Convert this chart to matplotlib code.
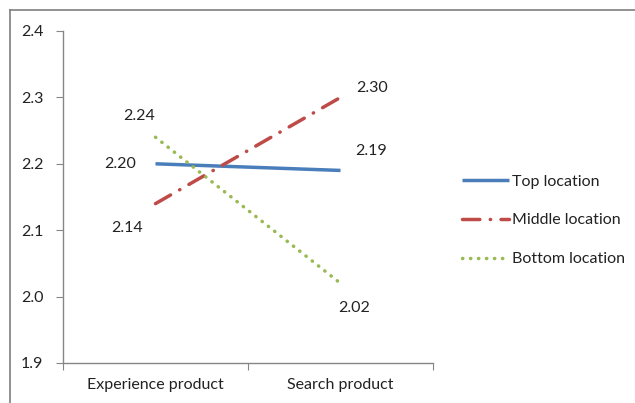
import matplotlib.pyplot as plt
from matplotlib.lines import Line2D

# chart data
categories = ['Experience product', 'Search product']
top_vals = [2.20, 2.19]
middle_vals = [2.14, 2.30]
bottom_vals = [2.24, 2.02]
series_names = ['Top location', 'Middle location', 'Bottom location']

plt.rcParams['font.family'] = ['Lato', 'DejaVu Sans']

W, H = 635, 403
fig = plt.figure(figsize=(W / 100, H / 100), dpi=100)
ax = fig.add_axes([63 / W, 1 - 363 / H, 370 / W, 332 / H])

x = list(range(len(categories)))
blue, red, green = '#4A7EBB', '#BE4B48', '#98B954'
fs = 11.5

l1, = ax.plot(x, top_vals, color=blue, lw=2.5, solid_capstyle='butt')
l2, = ax.plot(x, middle_vals, color=red, lw=2.5,
              linestyle=(0, (5, 3, 0.1, 3)), dash_capstyle='round')
l3, = ax.plot(x, bottom_vals, color=green, lw=2.5,
              linestyle=(0, (0.1, 2.2)), dash_capstyle='round')

# data labels (offsets in pixels)
label_offsets = {
    0: [(-35, 0), (31, 19)],
    1: [(-28, -24), (32, 9)],
    2: [(-16, 21), (14, -25)],
}
for i, vals in enumerate([top_vals, middle_vals, bottom_vals]):
    for j, v in enumerate(vals):
        dx, dy = label_offsets[i][j]
        ax.annotate(f'{v:.2f}', (x[j], v), xytext=(dx, dy),
                    textcoords='offset pixels', ha='center', va='center',
                    fontsize=fs, color='#222222')

ax.set_xlim(-0.5, 1.5)
ax.set_ylim(1.9, 2.4)
ax.set_yticks([1.9, 2.0, 2.1, 2.2, 2.3, 2.4])
ax.set_yticklabels(['1.9', '2.0', '2.1', '2.2', '2.3', '2.4'])
ax.set_xticks([-0.5, 0.5, 1.5])
ax.set_xticklabels([])
ax.set_xticks(x, minor=True)
ax.set_xticklabels(categories, minor=True)
ax.tick_params(axis='x', which='minor', length=0, pad=11, labelsize=fs, labelcolor='#222222')
ax.tick_params(axis='x', which='major', length=5, color='#868686', direction='out')
ax.tick_params(axis='y', length=5, color='#868686', direction='out',
               pad=9, labelsize=fs, labelcolor='#222222')

for s in ['top', 'right']:
    ax.spines[s].set_visible(False)
for s in ['left', 'bottom']:
    ax.spines[s].set_color('#868686')
    ax.spines[s].set_linewidth(1)

leg = fig.legend([l1, l2, l3], series_names, loc='upper left',
                 bbox_to_anchor=(448 / W, 1 - 160 / H), frameon=False,
                 fontsize=fs, handlelength=2.9, handletextpad=0.2,
                 labelspacing=1.55)
for t in leg.get_texts():
    t.set_color('#222222')

# outer border (top and left edges)
fig.add_artist(Line2D([10 / W, 10 / W], [0, 1 - 10 / H], color='#7f7f7f', lw=1.2))
fig.add_artist(Line2D([10 / W, 1], [1 - 10 / H, 1 - 10 / H], color='#7f7f7f', lw=1.2))

fig.savefig('out.png', dpi=100)
